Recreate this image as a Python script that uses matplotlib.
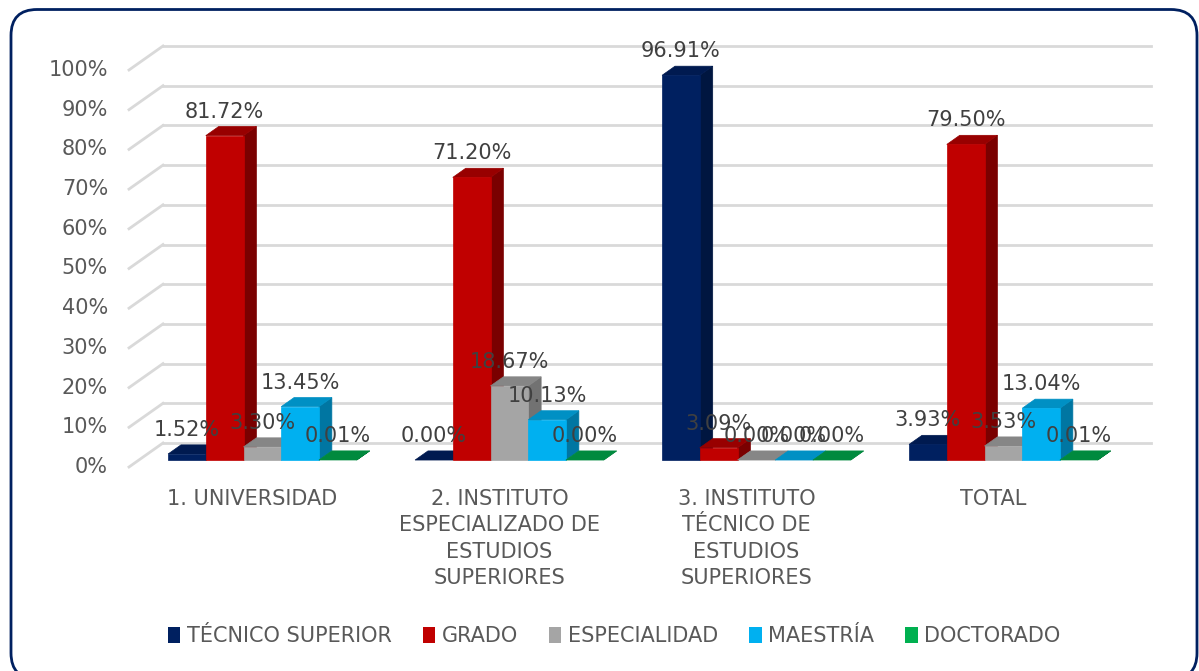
import matplotlib.pyplot as plt
from matplotlib.patches import Polygon, FancyBboxPatch, Patch

categories = ['1. UNIVERSIDAD',
              '2. INSTITUTO\nESPECIALIZADO DE\nESTUDIOS\nSUPERIORES',
              '3. INSTITUTO\nTÉCNICO DE\nESTUDIOS\nSUPERIORES',
              'TOTAL']
series = ['TÉCNICO SUPERIOR', 'GRADO', 'ESPECIALIDAD', 'MAESTRÍA', 'DOCTORADO']
tecnico = [1.52, 0.00, 96.91, 3.93]
grado = [81.72, 71.20, 3.09, 79.50]
especialidad = [3.30, 18.67, 0.00, 3.53]
maestria = [13.45, 10.13, 0.00, 13.04]
doctorado = [0.01, 0.00, 0.00, 0.01]
yticks = [0, 10, 20, 30, 40, 50, 60, 70, 80, 90, 100]

values = [tecnico, grado, especialidad, maestria, doctorado]
# front, top, side colours
colors = [('#002060', '#001a50', '#001640'),
          ('#c00000', '#980000', '#7a0000'),
          ('#a5a5a5', '#868686', '#727272'),
          ('#00b0f0', '#0090c4', '#0076a2'),
          ('#00b050', '#008a3e', '#007032')]

plt.rcParams['font.family'] = ['DejaVu Sans']
FS = 15

W, H = 1199, 671
fig = plt.figure(figsize=(W / 100, H / 100), dpi=100)
ax = fig.add_axes([0, 0, 1, 1])
ax.axis('off')

# pixel layout of the plot front: x=-0.5 at 129px, one category = 247px; 0% at 467px, 3.97px per %
px_x0, px_cat = 129, 247.0
px_y0, px_pct = 467, 3.97
ax.set_xlim(-0.5 - px_x0 / px_cat, -0.5 + (W - px_x0) / px_cat)
ax.set_ylim(-(H - px_y0) / px_pct, px_y0 / px_pct)

DX = 34 / px_cat   # full depth offset in category units
DY = 24 / px_pct   # full depth offset in %
z0, z1 = 0.29, 0.67
n = len(categories)
bw = 0.1527
grid_c = '#d9d9d9'

# walls / gridlines
for t in yticks:
    ax.plot([-0.5, -0.5 + DX], [t, t + DY], color=grid_c, lw=2, zorder=1)
    ax.plot([-0.5 + DX, n - 0.5 + DX], [t + DY, t + DY], color=grid_c, lw=2, zorder=1)
    ax.text(-0.5 - 21 / px_cat, t, f'{t}%', ha='right', va='center',
            fontsize=FS, color='#595959')

# bars
for i in range(n):
    for s, vals in enumerate(values):
        v = vals[i]
        fc, tc, sc = colors[s]
        xl = i - 2.5 * bw + s * bw + z0 * DX
        xr = xl + bw
        yb = z0 * DY
        yt = yb + v
        ddx = (z1 - z0) * DX
        ddy = (z1 - z0) * DY
        ax.add_patch(Polygon([(xr, yb), (xr + ddx, yb + ddy), (xr + ddx, yt + ddy), (xr, yt)],
                             closed=True, facecolor=sc, edgecolor=sc, lw=0.5, zorder=2))
        ax.add_patch(Polygon([(xl, yt), (xl + ddx, yt + ddy), (xr + ddx, yt + ddy), (xr, yt)],
                             closed=True, facecolor=tc, edgecolor=tc, lw=0.5, zorder=2))
        if v > 0.05:
            ax.add_patch(Polygon([(xl, yb), (xr, yb), (xr, yt), (xl, yt)],
                                 closed=True, facecolor=fc, edgecolor=fc, lw=0.5, zorder=2))
        ax.text((xl + xr) / 2, yt + 24 / px_pct, f'{v:.2f}%', ha='center', va='center',
                fontsize=FS, color='#404040', zorder=5)

# category labels
for i, c in enumerate(categories):
    ax.text(i, -22 / px_pct, c, ha='center', va='top', fontsize=FS,
            color='#595959', linespacing=1.4)

# frame (display pixels, y up)
fig.patches.append(FancyBboxPatch((11, -8), W - 13, H - 9.5 + 8,
                                  boxstyle='round,pad=0,rounding_size=26',
                                  transform=None, fill=False,
                                  edgecolor='#002060', lw=2))

handles = [Patch(facecolor=colors[s][0], edgecolor='none', label=series[s]) for s in range(len(series))]
leg = fig.legend(handles=handles, loc='center', bbox_to_anchor=(614 / W, 1 - 636 / H), ncol=5,
                 frameon=False, fontsize=FS, handlelength=0.6, handleheight=0.8,
                 handletextpad=0.3, columnspacing=1.5, labelcolor='#595959')

fig.savefig('out.png', dpi=100)
